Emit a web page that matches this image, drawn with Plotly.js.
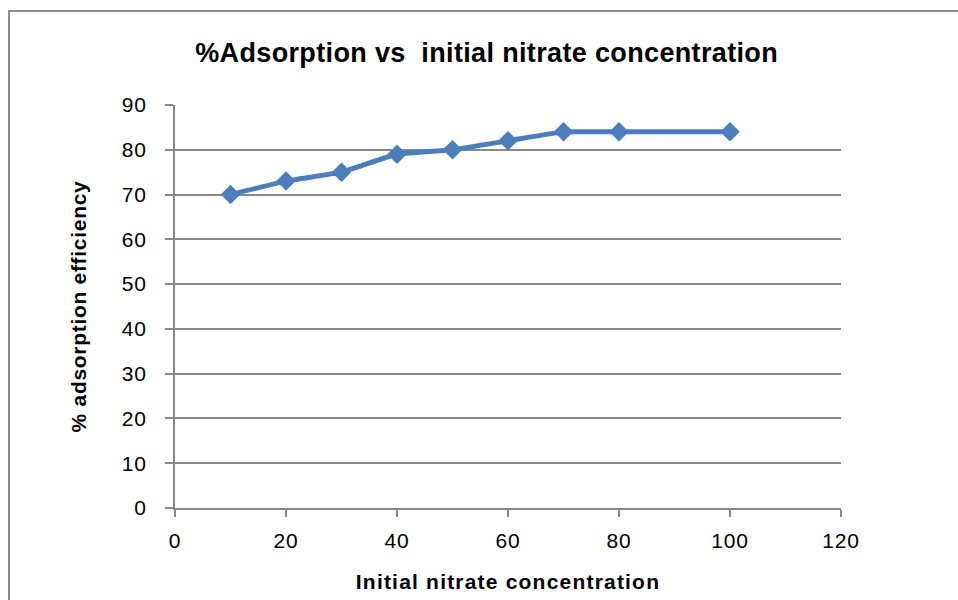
<!DOCTYPE html>
<html>
<head>
<meta charset="utf-8">
<script src="https://cdn.plot.ly/plotly-3.0.1.min.js"></script>
<style>
html,body{margin:0;padding:0;background:#fff;}
#chart{width:958px;height:600px;}
#chart .gtitle{letter-spacing:0.35px;}
#chart .xtitle{letter-spacing:1.2px;}
#chart .ytitle{letter-spacing:0.7px;}
#chart .xtick text, #chart .ytick text{letter-spacing:0.8px;}
</style>
</head>
<body>
<div id="chart"></div>
<script>
const concentration = [10, 20, 30, 40, 50, 60, 70, 80, 100];
const adsorption = [70, 73, 75, 79, 80, 82, 84, 84, 84];
const xTicks = [0, 20, 40, 60, 80, 100, 120];
const yTicks = [0, 10, 20, 30, 40, 50, 60, 70, 80, 90];

const grey = '#878787';
const trace = {
  x: concentration,
  y: adsorption,
  type: 'scatter',
  mode: 'lines+markers',
  line: {color: '#4A7EBB', width: 5, shape: 'spline', smoothing: 0.4},
  marker: {symbol: 'diamond', size: 15, color: '#4A7EBB'},
  showlegend: false,
  cliponaxis: false
};

const layout = {
  width: 958, height: 600,
  margin: {l: 175, r: 117, t: 105, b: 92},
  paper_bgcolor: '#fff', plot_bgcolor: '#fff',
  font: {family: 'Liberation Sans, Arial, sans-serif', color: '#000', size: 21},
  title: {text: '<b>%Adsorption vs  initial nitrate concentration</b>', x: 0.508, xanchor: 'center', y: 0.913, yanchor: 'middle',
          font: {size: 27, family: 'Liberation Sans, Arial, sans-serif', color: '#000'}},
  xaxis: {
    range: [0, 120], tickvals: xTicks, ticktext: xTicks.map(String),
    showgrid: false, zeroline: false,
    showline: true, linecolor: grey, linewidth: 2,
    ticks: 'outside', ticklen: 7, tickcolor: grey, tickwidth: 2,
    ticklabelstandoff: 6,
    tickfont: {size: 21},
    title: {text: '<b>Initial nitrate concentration</b>', font: {size: 21}, standoff: 23}
  },
  yaxis: {
    range: [0, 90], tickvals: yTicks, ticktext: yTicks.map(String),
    showgrid: true, gridcolor: grey, gridwidth: 2, zeroline: false,
    showline: true, linecolor: grey, linewidth: 2,
    ticks: 'outside', ticklen: 8, tickcolor: grey, tickwidth: 2,
    ticklabelstandoff: 14,
    tickfont: {size: 21},
    title: {text: '<b>% adsorption efficiency</b>', font: {size: 21}, standoff: 31}
  },
  shapes: [{
    type: 'rect', xref: 'paper', yref: 'paper',
    x0: (9 - 175) / 666, x1: 2, y0: -1, y1: (508 - 11) / 403,
    line: {color: '#8c8c8c', width: 2}, fillcolor: 'rgba(0,0,0,0)', layer: 'below'
  }]
};

Plotly.newPlot('chart', [trace], layout, {displayModeBar: false, staticPlot: true});
</script>
</body>
</html>
